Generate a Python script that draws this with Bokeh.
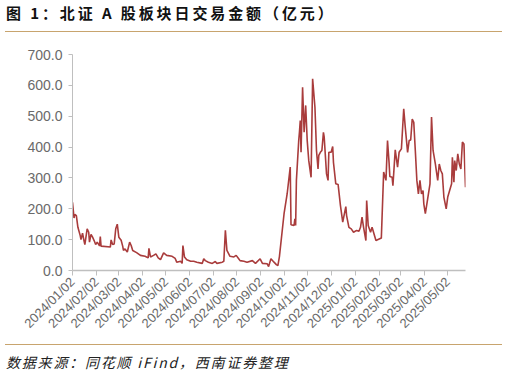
import pandas as pd
from bokeh.plotting import figure
from bokeh.models import (Range1d, FixedTicker, DatetimeTickFormatter,
                          NumeralTickFormatter, Div, ColumnDataSource)
from bokeh.layouts import column
from bokeh.embed import file_html
from bokeh.resources import INLINE
from math import pi

title_text = "图 1：北证 A 股板块日交易金额（亿元）"
source_text = "数据来源：同花顺 iFind，西南证券整理"

dates = [
    "2024-01-02", "2024-01-04", "2024-01-05", "2024-01-07", "2024-01-09", "2024-01-12",
    "2024-01-13", "2024-01-15", "2024-01-17", "2024-01-18", "2024-01-20", "2024-01-21",
    "2024-01-23", "2024-01-24", "2024-01-26", "2024-01-28", "2024-01-30", "2024-02-01",
    "2024-02-03", "2024-02-06", "2024-02-07", "2024-02-08", "2024-02-20", "2024-02-21",
    "2024-02-23", "2024-02-25", "2024-02-27", "2024-02-29", "2024-03-02", "2024-03-05",
    "2024-03-07", "2024-03-08", "2024-03-10", "2024-03-13", "2024-03-16", "2024-03-18",
    "2024-03-20", "2024-03-25", "2024-03-30", "2024-04-05", "2024-04-09", "2024-04-10",
    "2024-04-12", "2024-04-16", "2024-04-19", "2024-04-22", "2024-04-25", "2024-04-29",
    "2024-05-03", "2024-05-10", "2024-05-14", "2024-05-16", "2024-05-21", "2024-05-23",
    "2024-05-24", "2024-05-26", "2024-05-29", "2024-06-03", "2024-06-07", "2024-06-11",
    "2024-06-18", "2024-06-20", "2024-06-22", "2024-06-26", "2024-07-01", "2024-07-05",
    "2024-07-07", "2024-07-14", "2024-07-16", "2024-07-18", "2024-07-20", "2024-07-24",
    "2024-07-29", "2024-08-01", "2024-08-04", "2024-08-06", "2024-08-11", "2024-08-15",
    "2024-08-22", "2024-08-26", "2024-09-01", "2024-09-04", "2024-09-10", "2024-09-12",
    "2024-09-15", "2024-09-19", "2024-09-22", "2024-09-24", "2024-09-26", "2024-10-02",
    "2024-10-06", "2024-10-10", "2024-10-11", "2024-10-15", "2024-10-16", "2024-10-17",
    "2024-10-18", "2024-10-21", "2024-10-22", "2024-10-23", "2024-10-24", "2024-10-26",
    "2024-10-28", "2024-10-30", "2024-11-01", "2024-11-03", "2024-11-06", "2024-11-08",
    "2024-11-11", "2024-11-13", "2024-11-15", "2024-11-16", "2024-11-18", "2024-11-20",
    "2024-11-22", "2024-11-23", "2024-11-26", "2024-11-28", "2024-11-29", "2024-12-02",
    "2024-12-04", "2024-12-05", "2024-12-08", "2024-12-11", "2024-12-14", "2024-12-17",
    "2024-12-21", "2024-12-22", "2024-12-25", "2024-12-28", "2024-12-31", "2025-01-04",
    "2025-01-07", "2025-01-09", "2025-01-11", "2025-01-13", "2025-01-16", "2025-01-17",
    "2025-01-19", "2025-01-22", "2025-01-24", "2025-01-29", "2025-02-05", "2025-02-08",
    "2025-02-11", "2025-02-13", "2025-02-15", "2025-02-16", "2025-02-19", "2025-02-20",
    "2025-02-23", "2025-02-26", "2025-02-28", "2025-03-03", "2025-03-06", "2025-03-08",
    "2025-03-11", "2025-03-13", "2025-03-15", "2025-03-17", "2025-03-19", "2025-03-21",
    "2025-03-23", "2025-03-25", "2025-03-27", "2025-03-29", "2025-03-31", "2025-04-01",
    "2025-04-03", "2025-04-06", "2025-04-09", "2025-04-11", "2025-04-13", "2025-04-16",
    "2025-04-19", "2025-04-21", "2025-04-23", "2025-04-25", "2025-04-27", "2025-04-30",
    "2025-05-02", "2025-05-07", "2025-05-08", "2025-05-10", "2025-05-11", "2025-05-13",
    "2025-05-15", "2025-05-17", "2025-05-19", "2025-05-21", "2025-05-23", "2025-05-25",
]

amounts = [
    221, 170, 182, 178, 140, 113,
    100, 121, 95, 84, 118, 135,
    124, 92, 117, 108, 97, 84,
    92, 80, 110, 79, 76, 99,
    84, 86, 135, 150, 108, 98,
    79, 65, 70, 60, 92, 81,
    65, 58, 49, 46, 41, 72,
    44, 49, 54, 41, 35, 57,
    49, 46, 39, 27, 30, 23,
    81, 44, 35, 30, 30, 27,
    23, 38, 32, 27, 23, 29,
    23, 27, 30, 130, 65, 46,
    44, 49, 39, 32, 30, 27,
    32, 23, 38, 23, 22, 13,
    38, 27, 19, 16, 45, 184,
    248, 335, 148, 146, 167, 146,
    292, 421, 450, 486, 383, 594,
    448, 535, 421, 356, 302, 621,
    529, 389, 329, 373, 383, 389,
    448, 432, 313, 292, 383, 383,
    402, 350, 281, 279, 211, 157,
    207, 178, 140, 135, 124, 130,
    127, 140, 173, 140, 97, 227,
    146, 124, 140, 97, 105, 319,
    292, 421, 350, 305, 302, 275,
    391, 335, 383, 394, 524, 464,
    383, 421, 423, 491, 480, 389,
    292, 248, 292, 248, 259, 216,
    184, 232, 281, 497, 389, 345,
    292, 345, 324, 313, 238, 200,
    238, 281, 367, 286, 356, 324,
    378, 345, 329, 416, 410, 270,
]

tick_dates = [
    "2024-01-02", "2024-02-02", "2024-03-02", "2024-04-02", "2024-05-02", "2024-06-02",
    "2024-07-02", "2024-08-02", "2024-09-02", "2024-10-02", "2024-11-02", "2024-12-02",
    "2025-01-02", "2025-02-02", "2025-03-02", "2025-04-02", "2025-05-02",
]
y_ticks = [0, 100, 200, 300, 400, 500, 600, 700]

x = pd.to_datetime(dates)
src = ColumnDataSource(data=dict(x=x, y=amounts))

def ms(d):
    return pd.Timestamp(d).value / 1e6

GOLD = "#C8A46E"
AX = "#BFBFBF"
LBL = "#6A6A6A"

title_div = Div(
    text=('<div style="position:relative;width:507px;height:40px;">'
          '<div style="position:absolute;left:6px;top:2px;font-family:\'Noto Sans CJK SC\';'
          'font-weight:bold;font-size:15px;letter-spacing:2.9px;color:#111;white-space:nowrap;">'
          + title_text + '</div>'
          '<div style="position:absolute;left:5px;top:31px;width:497px;height:0;'
          'border-top:1.5px solid ' + GOLD + ';"></div></div>'),
    width=507, height=40, margin=0)

p = figure(width=507, height=300, output_backend="svg", toolbar_location=None,
           x_axis_type="datetime", min_border_left=72, min_border_right=42,
           min_border_top=14, min_border_bottom=70, margin=0)
p.x_range = Range1d(ms(dates[0]), ms(dates[-1]))
p.y_range = Range1d(0, 700)
p.line("x", "y", source=src, line_color="#A93C3C", line_width=1.6)

p.outline_line_color = None
p.xgrid.grid_line_color = None
p.ygrid.grid_line_color = None
p.background_fill_color = "white"
p.border_fill_color = "white"

yax = p.yaxis[0]
yax.ticker = FixedTicker(ticks=y_ticks)
yax.formatter = NumeralTickFormatter(format="0.0")
yax.axis_line_color = AX
yax.major_tick_line_color = AX
yax.major_tick_out = 4
yax.major_tick_in = 0
yax.minor_tick_line_color = None
yax.major_label_text_font = "Liberation Sans"
yax.major_label_text_font_size = "14px"
yax.major_label_text_color = LBL
yax.major_label_standoff = 6

xax = p.xaxis[0]
xax.ticker = FixedTicker(ticks=[ms(d) for d in tick_dates])
fmt = "%Y/%m/%d"
xax.formatter = DatetimeTickFormatter(days=fmt, months=fmt, years=fmt, hours=fmt,
                                      hourmin=fmt, minutes=fmt, seconds=fmt,
                                      minsec=fmt, milliseconds=fmt, microseconds=fmt)
xax.axis_line_color = AX
xax.axis_line_width = 1.5
xax.major_tick_line_color = AX
xax.major_tick_out = 5
xax.major_tick_in = 0
xax.minor_tick_line_color = None
xax.major_label_orientation = pi / 4
xax.major_label_text_font = "Liberation Sans"
xax.major_label_text_font_size = "13px"
xax.major_label_text_color = LBL
xax.major_label_standoff = 4

foot_div = Div(
    text=('<div style="position:relative;width:507px;height:36px;">'
          '<div style="position:absolute;left:5px;top:4px;width:497px;height:0;'
          'border-top:1.5px solid ' + GOLD + ';"></div>'
          '<div style="position:absolute;left:6px;top:12px;font-family:\'Noto Sans CJK SC\';'
          'font-style:italic;font-size:14px;letter-spacing:1.8px;color:#222;white-space:nowrap;">'
          + source_text + '</div></div>'),
    width=507, height=36, margin=0)

layout = column(title_div, p, foot_div, spacing=0)
open("out.html", "w").write(file_html(layout, INLINE))
